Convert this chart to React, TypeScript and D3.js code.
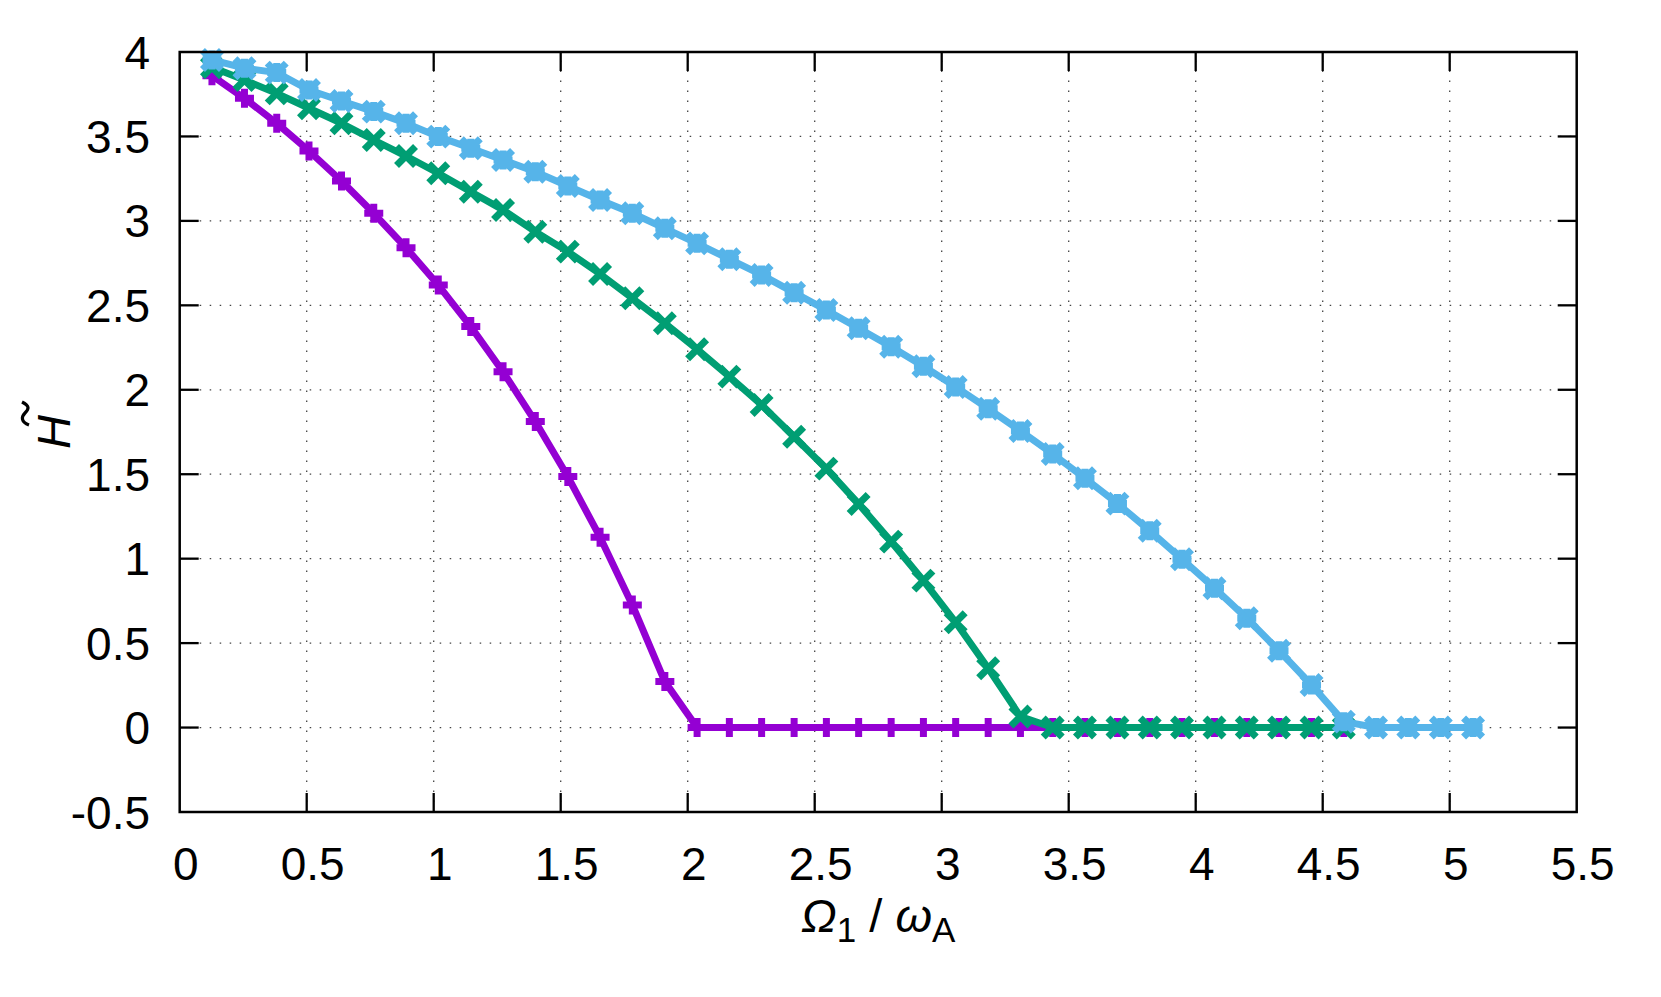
import React from "react";
import * as d3 from "d3";

// Omega_1 / omega_A sample points (shared grid)
const omega = [
  0.127, 0.255, 0.382, 0.509, 0.637, 0.764, 0.891, 1.018, 1.146, 1.273,
  1.4, 1.528, 1.655, 1.782, 1.91, 2.037, 2.164, 2.291, 2.419, 2.546,
  2.673, 2.801, 2.928, 3.055, 3.183, 3.31, 3.437, 3.564, 3.692, 3.819,
  3.946, 4.074, 4.201, 4.328, 4.456, 4.583, 4.71, 4.837, 4.965, 5.092,
];

const hPurple = [
  3.86, 3.726, 3.578, 3.414, 3.236, 3.045, 2.841, 2.62, 2.374, 2.107,
  1.812, 1.486, 1.127, 0.726, 0.272, 0, 0, 0, 0, 0,
  0, 0, 0, 0, 0, 0, 0, 0, 0, 0,
  0, 0, 0, 0, 0, 0,
];

const hGreen = [
  3.91, 3.834, 3.755, 3.667, 3.578, 3.479, 3.384, 3.282, 3.173, 3.065,
  2.936, 2.818, 2.686, 2.542, 2.394, 2.24, 2.078, 1.91, 1.722, 1.533,
  1.324, 1.101, 0.87, 0.623, 0.351, 0.065, 0, 0, 0, 0,
  0, 0, 0, 0, 0, 0,
];

const hBlue = [
  3.953, 3.904, 3.878, 3.775, 3.71, 3.647, 3.578, 3.499, 3.43, 3.361,
  3.291, 3.207, 3.124, 3.045, 2.956, 2.867, 2.773, 2.68, 2.575, 2.472,
  2.364, 2.255, 2.139, 2.017, 1.888, 1.756, 1.62, 1.476, 1.326, 1.165,
  0.997, 0.825, 0.647, 0.455, 0.252, 0.035, 0, 0, 0, 0,
];

const xTicks = [0, 0.5, 1, 1.5, 2, 2.5, 3, 3.5, 4, 4.5, 5, 5.5];
const yTicks = [-0.5, 0, 0.5, 1, 1.5, 2, 2.5, 3, 3.5, 4];

const width = 1661;
const height = 997;
const plot = { left: 179.7, right: 1576.7, top: 52, bottom: 812 };
const font = "'Liberation Sans', Arial, Helvetica, sans-serif";
const lw = 7;
const ms = 9.5;

const x = d3.scaleLinear().domain([0, 5.5]).range([plot.left, plot.right]);
const y = d3.scaleLinear().domain([-0.5, 4]).range([plot.bottom, plot.top]);

const plus = (s) => `M${-s},0H${s}M0,${-s}V${s}`;
const cross = (s) => `M${-s},${-s}L${s},${s}M${-s},${s}L${s},${-s}`;
const star = (s) => plus(s) + cross(s);

const series = [
  { name: "purple", values: hPurple, color: "#9400d3", marker: plus },
  { name: "green", values: hGreen, color: "#009e73", marker: cross },
  { name: "blue", values: hBlue, color: "#56b4e9", marker: star },
];

const line = d3
  .line()
  .x((d) => x(d[0]))
  .y((d) => y(d[1]));

export default function App() {
  const tickLen = 19;
  return (
    <svg
      width={width}
      height={height}
      style={{ position: "absolute", left: 0, top: 0, display: "block", background: "#fff" }}
      fontFamily={font}
    >
      {/* grid */}
      <g stroke="#444" strokeWidth={1.3} strokeDasharray="1.5 8.5">
        {xTicks.slice(1, -1).map((t) => (
          <line key={"gx" + t} x1={x(t)} x2={x(t)} y1={plot.bottom} y2={plot.top} />
        ))}
        {yTicks.slice(1, -1).map((t) => (
          <line key={"gy" + t} x1={plot.left} x2={plot.right} y1={y(t)} y2={y(t)} />
        ))}
      </g>

      {/* ticks, mirrored */}
      <g stroke="#000" strokeWidth={2.3}>
        {xTicks.slice(1, -1).map((t) => (
          <g key={"tx" + t}>
            <line x1={x(t)} x2={x(t)} y1={plot.bottom} y2={plot.bottom - tickLen} />
            <line x1={x(t)} x2={x(t)} y1={plot.top} y2={plot.top + tickLen} />
          </g>
        ))}
        {yTicks.slice(1, -1).map((t) => (
          <g key={"ty" + t}>
            <line x1={plot.left} x2={plot.left + tickLen} y1={y(t)} y2={y(t)} />
            <line x1={plot.right} x2={plot.right - tickLen} y1={y(t)} y2={y(t)} />
          </g>
        ))}
      </g>

      {/* data */}
      {series.map((s) => {
        const pts = s.values.map((v, i) => [omega[i], v]);
        return (
          <g key={s.name}>
            <path
              d={line(pts)}
              fill="none"
              stroke={s.color}
              strokeWidth={lw}
              strokeLinejoin="round"
            />
            {pts.map((p, i) => (
              <path
                key={i}
                transform={`translate(${x(p[0])},${y(p[1])})`}
                d={s.marker(ms)}
                fill="none"
                stroke={s.color}
                strokeWidth={lw}
              />
            ))}
          </g>
        );
      })}

      {/* border */}
      <rect
        x={plot.left}
        y={plot.top}
        width={plot.right - plot.left}
        height={plot.bottom - plot.top}
        fill="none"
        stroke="#000"
        strokeWidth={2.5}
      />

      {/* tick labels */}
      <g fontSize={46} fill="#000">
        {xTicks.map((t) => (
          <text key={"lx" + t} x={x(t) + 6} y={880} textAnchor="middle">
            {String(t)}
          </text>
        ))}
        {yTicks.map((t) => (
          <text key={"ly" + t} x={150} y={y(t) + 16.5} textAnchor="end">
            {String(t)}
          </text>
        ))}
      </g>

      {/* x axis title */}
      <text x={(plot.left + plot.right) / 2} y={932} fontSize={47} textAnchor="middle" fill="#000">
        <tspan fontStyle="italic">Ω</tspan>
        <tspan fontSize={35} dy={10}>1</tspan>
        <tspan dy={-10}> / </tspan>
        <tspan fontStyle="italic">ω</tspan>
        <tspan fontSize={35} dy={10}>A</tspan>
      </text>

      {/* y axis title */}
      <g transform="translate(70,432) rotate(-90)">
        <text x={0} y={0} fontSize={47} fontStyle="italic" textAnchor="middle" fill="#000">
          H
        </text>
        <path
          d="M7,-41 C10,-49 15,-49 19,-45 S26,-40 30,-48"
          fill="none"
          stroke="#000"
          strokeWidth={3.2}
        />
      </g>
    </svg>
  );
}
